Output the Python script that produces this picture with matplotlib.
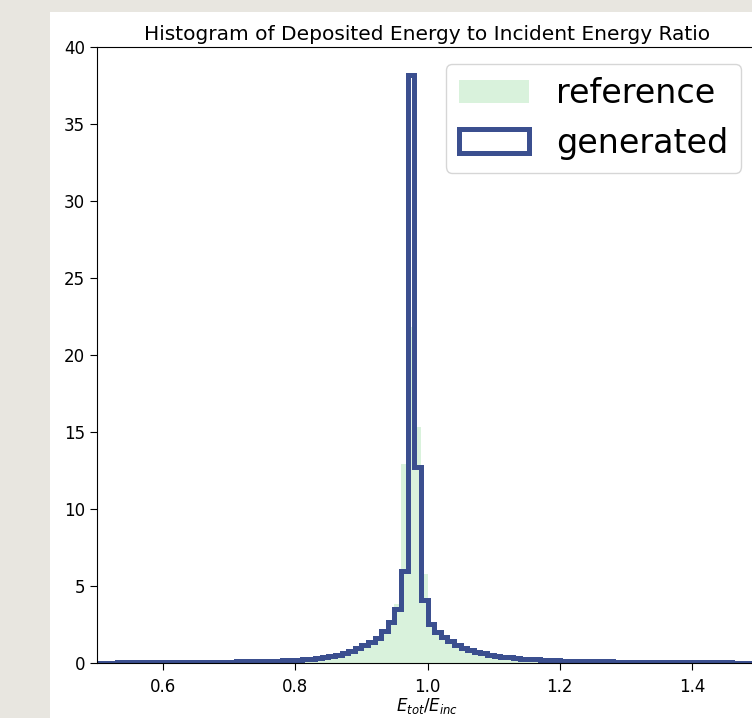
import numpy as np
import matplotlib
matplotlib.use("Agg")
import matplotlib.pyplot as plt
from matplotlib.patches import Rectangle

# histogram bins (0.01 wide from 0.5 to 1.5)
bin_edges = np.round(np.linspace(0.5, 1.5, 101), 3)
bin_centers = (bin_edges[:-1] + bin_edges[1:]) / 2

# densities, one per bin
gen_density = [
    # 0.50 - 0.79
    0.03, 0.03, 0.03, 0.04, 0.04, 0.04, 0.04, 0.05, 0.05, 0.05,
    0.05, 0.06, 0.06, 0.06, 0.07, 0.07, 0.07, 0.08, 0.08, 0.09,
    0.09, 0.10, 0.11, 0.11, 0.12, 0.13, 0.14, 0.15, 0.17, 0.18,
    # 0.80 - 0.99
    0.20, 0.23, 0.27, 0.32, 0.38, 0.45, 0.54, 0.65, 0.78, 0.95,
    1.15, 1.38, 1.65, 2.05, 2.65, 3.50, 6.00, 38.2, 12.7, 4.10,
    # 1.00 - 1.19
    2.55, 2.00, 1.70, 1.45, 1.20, 1.00, 0.85, 0.72, 0.62, 0.53,
    0.47, 0.42, 0.37, 0.33, 0.29, 0.26, 0.23, 0.21, 0.19, 0.17,
    # 1.20 - 1.49
    0.16, 0.15, 0.14, 0.13, 0.12, 0.11, 0.10, 0.10, 0.09, 0.09,
    0.08, 0.08, 0.07, 0.07, 0.07, 0.06, 0.06, 0.06, 0.05, 0.05,
    0.05, 0.05, 0.04, 0.04, 0.04, 0.04, 0.03, 0.03, 0.03, 0.03,
]

ref_density = [
    # 0.50 - 0.79
    0.02, 0.02, 0.02, 0.03, 0.03, 0.03, 0.03, 0.04, 0.04, 0.04,
    0.04, 0.05, 0.05, 0.05, 0.06, 0.06, 0.06, 0.07, 0.07, 0.08,
    0.08, 0.09, 0.10, 0.10, 0.11, 0.12, 0.13, 0.14, 0.15, 0.16,
    # 0.80 - 0.99
    0.18, 0.21, 0.24, 0.28, 0.33, 0.40, 0.48, 0.58, 0.70, 0.86,
    1.05, 1.28, 1.58, 2.00, 2.70, 3.80, 12.9, 21.8, 15.3, 5.80,
    # 1.00 - 1.19
    2.40, 1.80, 1.50, 1.28, 1.08, 0.90, 0.76, 0.65, 0.56, 0.48,
    0.42, 0.37, 0.33, 0.30, 0.26, 0.23, 0.21, 0.19, 0.17, 0.15,
    # 1.20 - 1.49
    0.14, 0.13, 0.12, 0.11, 0.10, 0.10, 0.09, 0.09, 0.08, 0.08,
    0.07, 0.07, 0.06, 0.06, 0.06, 0.05, 0.05, 0.05, 0.04, 0.04,
    0.04, 0.04, 0.03, 0.03, 0.03, 0.03, 0.02, 0.02, 0.02, 0.02,
]

W, H = 752, 718
fig = plt.figure(figsize=(W / 100, H / 100), dpi=100, facecolor="#e8e6e0")
# white figure sheet sitting on the textured page
fig.patches.append(Rectangle((50 / W, 0), 1, 1 - 12 / H, transform=fig.transFigure,
                             facecolor="white", edgecolor="none", zorder=-1))

ax = fig.add_axes([97 / W, 55 / H, 661 / W, 616 / H])
ax.hist(bin_centers, bins=bin_edges, weights=ref_density, histtype="stepfilled",
        color="#d9f2dc", label="reference")
ax.hist(bin_centers, bins=bin_edges, weights=gen_density, histtype="step",
        color="#3b4f8f", linewidth=3.6, label="generated")

ax.set_xlim(0.5, 1.5)
ax.set_ylim(0, 40)
ax.set_xticks([0.6, 0.8, 1.0, 1.2, 1.4])
ax.tick_params(labelsize=12, length=5)
ax.tick_params(axis="x", pad=6)
ax.set_title("Histogram of Deposited Energy to Incident Energy Ratio", fontsize=14.5, pad=5)
ax.set_xlabel("$E_{tot}/E_{inc}$", fontsize=12, labelpad=0)
ax.legend(loc="upper right", fontsize=24, handlelength=2.1)

fig.savefig("out.png", dpi=100, facecolor=fig.get_facecolor())
